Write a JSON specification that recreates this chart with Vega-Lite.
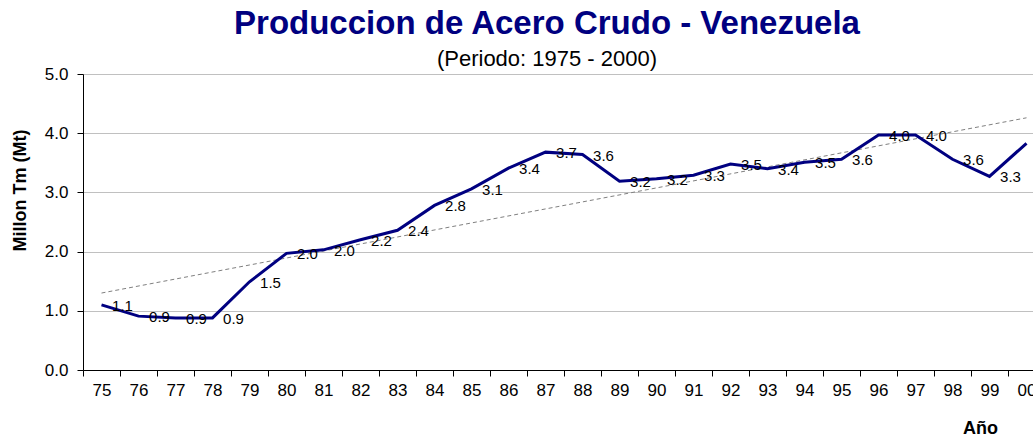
{
  "$schema": "https://vega.github.io/schema/vega-lite/v6.json",
  "width": 950,
  "height": 296,
  "autosize": {"type": "none"},
  "padding": {"left": 83, "top": 74, "right": 0, "bottom": 67},
  "background": "white",
  "title": {
    "text": "Produccion de Acero Crudo - Venezuela",
    "subtitle": "(Periodo: 1975 - 2000)",
    "font": "Liberation Sans",
    "fontSize": 33,
    "fontWeight": "bold",
    "color": "#000080",
    "subtitleFont": "Liberation Sans",
    "subtitleFontSize": 22,
    "subtitleColor": "#000000",
    "anchor": "middle",
    "dx": -11,
    "offset": -5,
    "subtitlePadding": 8
  },
  "config": {"view": {"stroke": null}, "font": "Liberation Sans"},
  "datasets": {
    "prod": [
      {"anio": "75", "v": 1.10},
      {"anio": "76", "v": 0.91},
      {"anio": "77", "v": 0.88},
      {"anio": "78", "v": 0.88},
      {"anio": "79", "v": 1.49},
      {"anio": "80", "v": 1.97},
      {"anio": "81", "v": 2.03},
      {"anio": "82", "v": 2.20},
      {"anio": "83", "v": 2.36},
      {"anio": "84", "v": 2.78},
      {"anio": "85", "v": 3.06},
      {"anio": "86", "v": 3.41},
      {"anio": "87", "v": 3.68},
      {"anio": "88", "v": 3.64},
      {"anio": "89", "v": 3.19},
      {"anio": "90", "v": 3.23},
      {"anio": "91", "v": 3.29},
      {"anio": "92", "v": 3.48},
      {"anio": "93", "v": 3.40},
      {"anio": "94", "v": 3.51},
      {"anio": "95", "v": 3.56},
      {"anio": "96", "v": 3.97},
      {"anio": "97", "v": 3.97},
      {"anio": "98", "v": 3.56},
      {"anio": "99", "v": 3.27},
      {"anio": "00", "v": 3.83}
    ],
    "trend": [
      {"anio": "75", "t": 1.30},
      {"anio": "00", "t": 4.26}
    ]
  },
  "encoding": {
    "x": {
      "field": "anio",
      "type": "nominal",
      "scale": {
        "type": "band",
        "domain": ["75","76","77","78","79","80","81","82","83","84","85","86","87","88","89","90","91","92","93","94","95","96","97","98","99","00"],
        "range": [0, 962],
        "paddingInner": 0,
        "paddingOuter": 0
      },
      "axis": {
        "tickBand": "extent",
        "tickSize": 6,
        "tickColor": "#000000",
        "domainColor": "#000000",
        "labelAngle": 0,
        "labelFont": "Liberation Sans",
        "labelFontSize": 17,
        "labelColor": "#000000",
        "labelPadding": 6,
        "title": "Año",
        "titleFont": "Liberation Sans",
        "titleFontSize": 18,
        "titleFontWeight": "bold",
        "titleColor": "#000000",
        "titleX": 897,
        "titleY": 63,
        "titleBaseline": "alphabetic",
        "grid": false
      }
    }
  },
  "layer": [
    {
      "data": {"name": "trend"},
      "mark": {"type": "line", "color": "#808080", "strokeWidth": 1, "strokeDash": [4, 3]},
      "encoding": {
        "y": {
          "field": "t",
          "type": "quantitative",
          "scale": {"domain": [0, 5], "nice": false},
          "axis": {
            "values": [0, 1, 2, 3, 4, 5],
            "format": ".1f",
            "grid": true,
            "gridColor": "#c0c0c0",
            "tickSize": 6,
            "tickColor": "#000000",
            "domainColor": "#000000",
            "labelFont": "Liberation Sans",
            "labelFontSize": 17,
            "labelColor": "#000000",
            "labelPadding": 9,
            "title": "Millon Tm (Mt)",
            "titleFont": "Liberation Sans",
            "titleFontSize": 18,
            "titleFontWeight": "bold",
            "titleColor": "#000000",
            "titleX": -54,
            "titleY": 116
          }
        }
      }
    },
    {
      "data": {"name": "prod"},
      "mark": {"type": "line", "color": "#000080", "strokeWidth": 3},
      "encoding": {
        "y": {"field": "v", "type": "quantitative"}
      }
    },
    {
      "data": {"name": "prod"},
      "mark": {"type": "text", "dx": 21, "dy": 1, "fontSize": 15, "font": "Liberation Sans", "color": "#000000", "baseline": "middle", "align": "center"},
      "encoding": {
        "y": {"field": "v", "type": "quantitative"},
        "text": {"field": "v", "type": "quantitative", "format": ".1f"}
      }
    }
  ]
}
